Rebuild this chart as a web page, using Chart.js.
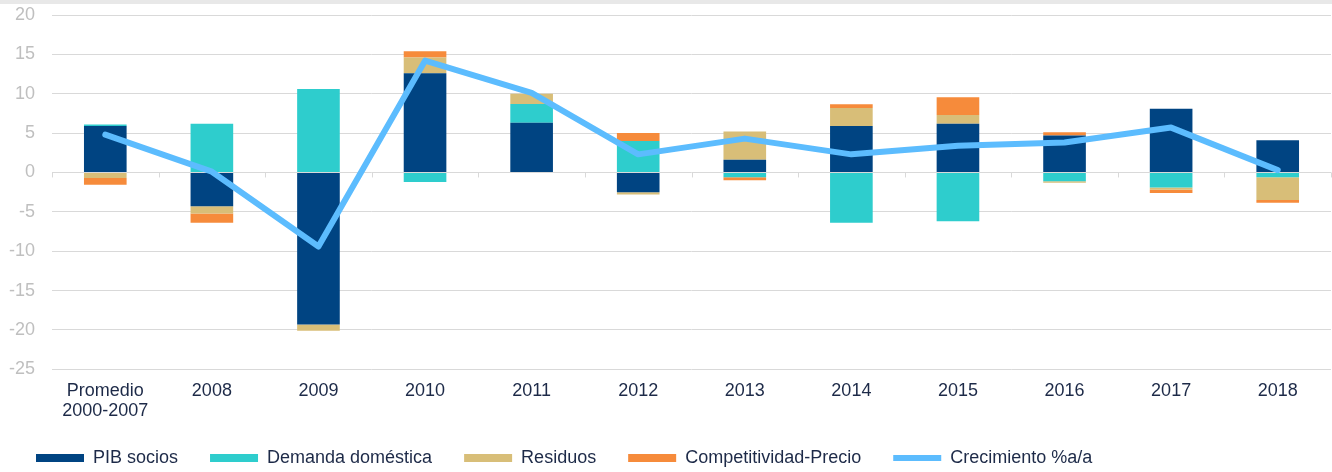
<!DOCTYPE html>
<html>
<head>
<meta charset="utf-8">
<script src="https://cdn.jsdelivr.net/npm/chart.js@4"></script>
<style>
  html, body { margin: 0; padding: 0; background: #fff; overflow: hidden; }
  #band { height: 4px; background: #e8e8e8; }
  #wrap { position: relative; width: 1332px; height: 473px; }
</style>
</head>
<body>
<div id="band"></div>
<div id="wrap"><canvas id="myChart"></canvas></div>
<script>
const labels = [["Promedio", "2000-2007"], "2008", "2009", "2010", "2011", "2012", "2013", "2014", "2015", "2016", "2017", "2018"];
const pibSocios = [5.9, -4.3, -19.3, 12.6, 6.3, -2.5, 1.6, 5.9, 6.2, 4.7, 8.1, 4.1];
const demanda = [0.2, 6.2, 10.6, -1.2, 2.4, 4.0, -0.6, -6.4, -6.2, -1.1, -1.9, -0.6];
const residuos = [-0.7, -0.9, -0.8, 2.0, 1.3, -0.3, 3.6, 2.3, 1.1, -0.2, -0.3, -2.9];
const competitividad = [-0.85, -1.2, 0, 0.8, 0, 1.0, -0.4, 0.45, 2.25, 0.4, -0.4, -0.35];
const crecimiento = [4.8, 0.1, -9.4, 14.2, 10.1, 2.3, 4.3, 2.3, 3.4, 3.8, 5.7, 0.3];

const FONT = "'Liberation Sans', Arial, sans-serif";

// small tick marks on the zero line at category boundaries
const zeroTicks = {
  id: "zeroTicks",
  afterDatasetsDraw(chart) {
    const x = chart.scales.x, y = chart.scales.y;
    const ctx = chart.ctx;
    const y0 = y.getPixelForValue(0);
    const step = (x.right - x.left) / labels.length;
    ctx.save();
    ctx.strokeStyle = "#d9d9d9";
    ctx.lineWidth = 1;
    for (let i = 0; i <= labels.length; i++) {
      const px = Math.round(x.left + i * step) + 0.5;
      ctx.beginPath();
      ctx.moveTo(px, y0);
      ctx.lineTo(px, y0 + 5);
      ctx.stroke();
    }
    ctx.restore();
  }
};

function bar(label, data, color) {
  return {
    type: "bar",
    label: label,
    data: data,
    backgroundColor: color,
    borderWidth: 0,
    stack: "s",
    order: 1,
    barPercentage: 0.4,
    categoryPercentage: 1
  };
}

new Chart("myChart", {
  data: {
    labels: labels,
    datasets: [
      bar("PIB socios", pibSocios, "#004482"),
      bar("Demanda doméstica", demanda, "#2ecdcd"),
      bar("Residuos", residuos, "#d8be78"),
      bar("Competitividad-Precio", competitividad, "#f68b3b"),
      {
        type: "line",
        label: "Crecimiento %a/a",
        data: crecimiento,
        borderColor: "#5cbcfe",
        backgroundColor: "#5cbcfe",
        borderWidth: 6,
        borderCapStyle: "round",
        borderJoinStyle: "round",
        pointRadius: 0,
        tension: 0,
        stack: "l",
        order: 0
      }
    ]
  },
  options: {
    responsive: true,
    maintainAspectRatio: false,
    animation: false,
    layout: { padding: { left: 4, right: 1, top: 11, bottom: 0 } },
    plugins: {
      tooltip: { enabled: false },
      legend: {
        position: "bottom",
        align: "start",
        labels: {
          usePointStyle: true,
          pointStyleWidth: 48,
          boxHeight: 8,
          padding: 32,
          color: "#1d2a48",
          font: { family: FONT, size: 18 },
          sort: (a, b) => a.datasetIndex - b.datasetIndex,
          generateLabels(chart) {
            const items = Chart.defaults.plugins.legend.labels.generateLabels(chart);
            items.forEach(it => {
              it.pointStyle = it.datasetIndex === 4 ? "line" : "rect";
            });
            return items;
          }
        }
      }
    },
    scales: {
      x: {
        stacked: true,
        grid: { display: false, drawTicks: false },
        border: { display: false },
        ticks: {
          color: "#1d2a48",
          padding: 12,
          maxRotation: 0,
          autoSkip: false,
          font: { family: FONT, size: 18, lineHeight: 1.1 }
        },
        afterFit(scale) { scale.height = 47.7; }
      },
      y: {
        stacked: true,
        min: -25,
        max: 20,
        grid: { color: "#d9d9d9", drawTicks: false },
        border: { display: false },
        ticks: {
          stepSize: 5,
          color: "#bfbfbf",
          padding: 17,
          font: { family: FONT, size: 18 }
        },
        afterFit(scale) {
          scale.width = 48;
          scale.paddingTop = 0;
          scale.paddingBottom = 0;
        }
      }
    }
  },
  plugins: [zeroTicks]
});
</script>
</body>
</html>
